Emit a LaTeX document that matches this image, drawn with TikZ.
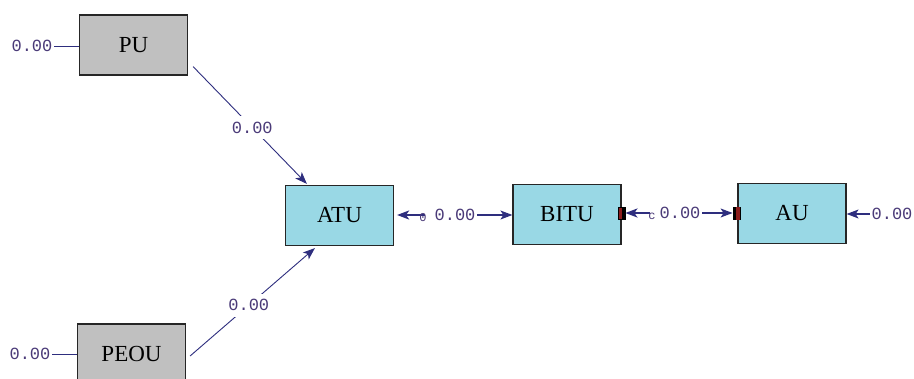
\documentclass[tikz,border=0pt]{standalone}
\usepackage{fontspec}
\setmainfont{Liberation Serif}
\newfontfamily\monof{Liberation Mono}
\usetikzlibrary{arrows.meta,calc}
\definecolor{linec}{HTML}{2E2E7E}
\definecolor{labc}{HTML}{4A3A78}
\definecolor{grayfill}{HTML}{C0C0C0}
\definecolor{cyanfill}{HTML}{99D8E5}
\definecolor{mkred}{HTML}{8B1C1C}
\tikzset{
  box/.style={draw=black!85, line width=1.2pt, minimum width=108pt, minimum height=60pt,
    inner sep=0pt, font=\fontsize{23}{23}\selectfont},
  obs/.style={box, fill=grayfill},
  lat/.style={box, fill=cyanfill},
  lbl/.style={text=labc, font=\monof\fontsize{17}{17}\selectfont, inner sep=1.5pt},
  lblw/.style={lbl, fill=white, inner xsep=3pt, inner ysep=6pt},
  tiny/.style={text=labc, font=\monof\fontsize{12}{12}\selectfont, inner sep=0pt},
  conn/.style={draw=linec, line width=0.9pt},
  arr/.style={conn, -{Stealth[length=12pt,width=9pt,inset=3pt]}},
  harr/.style={conn, line width=1.2pt, -{Stealth[length=12pt,width=9pt,inset=3pt]}},
  mkbox/.style={draw=black, line width=0.6pt, minimum width=7pt, minimum height=12pt, inner sep=0pt}
}
\begin{document}
\begin{tikzpicture}[x=1pt,y=-1pt]
\clip (0,0) rectangle (914,379);
\fill[white] (0,0) rectangle (914,379);

% boxes
\node[obs] (PU) at (133.5,45) {PU};
\node[obs] (PEOU) at (131.5,354) {PEOU};
\node[lat] (ATU) at (339.5,215.5) {ATU};
\node[lat] (BITU) at (567,214.5) {BITU};
\node[lat] (AU) at (792,213.5) {AU};

% error terms of exogenous variables
\node[lbl] (ePU) at (32,46) {0.00};
\draw[conn] (ePU.east) -- (PU.west |- ePU.east);
\node[lbl] (ePEOU) at (30,354) {0.00};
\draw[conn] (ePEOU.east) -- (PEOU.west |- ePEOU.east);

% paths into ATU
\draw[arr] ($(PU.south east)+(5,-9)$) -- node[lblw,pos=0.52] {0.00} ($(ATU.north west)+(22,-1)$);
\draw[arr] ($(PEOU.east)+(4,2)$) -- node[lblw,pos=0.47] {0.00} ($(ATU.south west)+(30,2)$);

% ATU -> BITU
\node[lbl] (L1) at (455,215) {0.00};
\draw[harr] (L1.east) -- (BITU.west |- L1.east);
\draw[harr, line width=2pt] ($(L1.west)+(-8,0)$) -- ($(ATU.east |- L1.west)+(3,0)$);
\node[tiny] (t1) at (423,218) {0};

% BITU -> AU
\node[mkbox, fill=mkred] (mB) at ($(BITU.east)+(0,-1.5)$) {};
\fill[black] (mB.north) rectangle (mB.south east);
\node[mkbox, fill=black] (mA) at ($(AU.west)+(-1,0)$) {};
\fill[mkred] (mA.north) rectangle (mA.south east);
\node[lbl] (L2) at (680,213) {0.00};
\draw[harr] (L2.east) -- (mA.west |- L2.east);
\draw[harr, line width=2pt] ($(L2.west)+(-8,0)$) -- (mB.east |- L2.west);
\node[tiny] (t2) at (652,216) {c};

% AU error
\node[lbl] (eAU) at (892,214) {0.00};
\draw[harr] (eAU.west) -- (AU.east |- eAU.west);
\end{tikzpicture}
\end{document}
